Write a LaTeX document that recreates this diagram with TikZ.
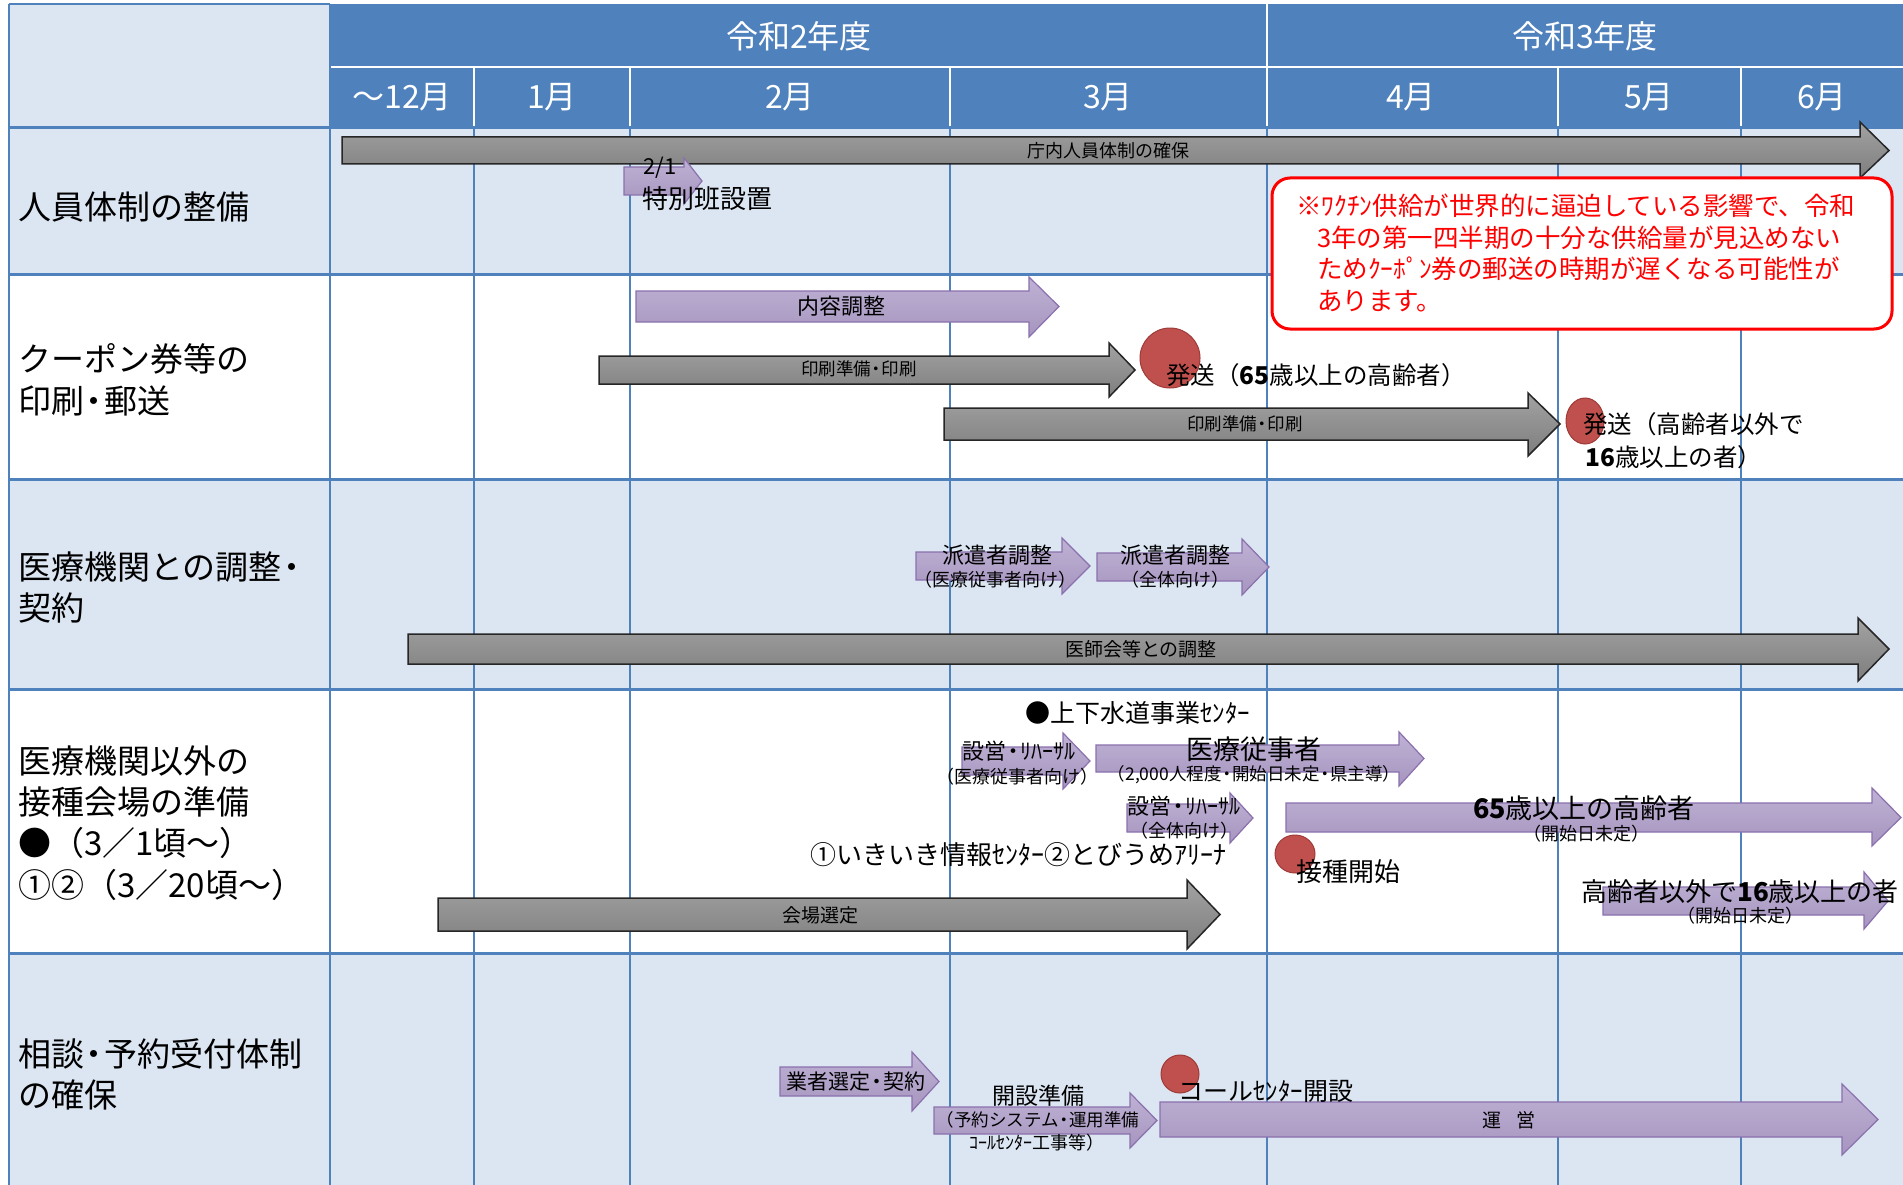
\documentclass[tikz,border=0pt]{standalone}
\usepackage{fontspec}
\setmainfont{Noto Sans CJK JP}
\usetikzlibrary{shapes.geometric}
\definecolor{hdr}{HTML}{4F81BD}
\definecolor{lb}{HTML}{DCE6F2}
\definecolor{gridc}{HTML}{4F81BD}
\definecolor{pfillA}{HTML}{BFB2D5}
\definecolor{pfillB}{HTML}{A695BF}
\definecolor{pline}{HTML}{8A70AC}
\definecolor{gfillA}{HTML}{A2A2A2}
\definecolor{gfillB}{HTML}{7E7E7E}
\definecolor{dotc}{HTML}{C0504D}
\definecolor{dotl}{HTML}{9E3B38}
\definecolor{notered}{HTML}{FF0000}
\newcommand\hArrow[8]{\path[#1] (#2,#5) -- (#3,#5) -- (#3,#7) -- (#4,{(#5+#6)/2}) -- (#3,#8) -- (#3,#6) -- (#2,#6) -- cycle;}
\newcommand\fsz[2]{\fontsize{#1}{#2}\selectfont}
\newcommand\nd{\kern-0.2em・\kern-0.2em}
\tikzset{
  garrow/.style={top color=gfillA,bottom color=gfillB,draw=black!85,line width=1.5pt},
  parrow/.style={top color=pfillA,bottom color=pfillB,draw=pline,line width=1.2pt},
  txt/.style={inner sep=0pt,text=black},
  hdrtxt/.style={inner sep=0pt,text=white,font=\fsz{32}{38}},
  rowlbl/.style={inner sep=0pt,anchor=west,text=black,font=\fsz{33}{40}},
  dot/.style={ellipse,fill=dotc,draw=dotl,line width=1pt,inner sep=0pt},
}
\begin{document}
\begin{tikzpicture}[x=1pt,y=-1pt]
\useasboundingbox (0,0) rectangle (1903,1185);
\fill[white] (0,0) rectangle (1903,1185);
% backgrounds
\fill[lb] (9,4) rectangle (330,128);
\fill[hdr] (330,4) rectangle (1903,128);
\fill[lb] (9,128) rectangle (1903,274);
\fill[lb] (9,479) rectangle (1903,689);
\fill[lb] (9,953) rectangle (1903,1185);
% header separators
\draw[white,line width=2pt] (330,67) -- (1903,67);
\foreach \x in {474,630,950,1558,1741} \draw[white,line width=2pt] (\x,67) -- (\x,128);
\draw[white,line width=2pt] (1267,4) -- (1267,128);
% grid
\foreach \x in {474,630,950,1267,1558,1741} \draw[gridc,line width=2pt] (\x,128) -- (\x,1185);
\draw[gridc,line width=2.5pt] (9,4) -- (9,1185);
\draw[gridc,line width=2.5pt] (330,4) -- (330,1185);
\draw[gridc,line width=2pt] (9,4) -- (330,4);
\foreach \y in {128,274,479,689,953} \draw[gridc,line width=3pt] (9,\y) -- (1903,\y);

% header texts
\node[hdrtxt] (y2) at (799,36) {令和2年度};
\node[hdrtxt] (y3) at (1585,36) {令和3年度};
\node[hdrtxt] (m12) at (402,97) {～12月};
\node[hdrtxt] (m1) at (552,97) {1月};
\node[hdrtxt] (m2) at (790,97) {2月};
\node[hdrtxt] (m3) at (1108,97) {3月};
\node[hdrtxt] (m4) at (1411,97) {4月};
\node[hdrtxt] (m5) at (1649,97) {5月};
\node[hdrtxt] (m6) at (1822,97) {6月};

% row labels
\node[rowlbl] (r1) at (18,207) {人員体制の整備};
\node[rowlbl] (r2a) at (18,359) {クーポン券等の};
\node[rowlbl] (r2b) at (18,401) {印刷\nd 郵送};
\node[rowlbl] (r3a) at (18,567) {医療機関との調整\nd};
\node[rowlbl] (r3b) at (18,608) {契約};
\node[rowlbl] (r4a) at (18,761) {医療機関以外の};
\node[rowlbl] (r4b) at (18,802) {接種会場の準備};
\node[rowlbl] (r4c) at (18,843) {●（3／1頃～）};
\node[rowlbl] (r4d) at (18,885) {①②（3／20頃～）};
\node[rowlbl] (r5a) at (18,1054) {相談\nd 予約受付体制};
\node[rowlbl] (r5b) at (18,1095) {の確保};

% ---- row 1
\hArrow{garrow}{342}{1860}{1889}{137}{164}{122}{178}
\node[txt,font=\fsz{18}{22}] (g1) at (1108,151) {庁内人員体制の確保};
\hArrow{parrow}{624}{684}{702}{167}{195}{158}{204}
\node[txt,font=\fsz{22}{26}] (d21) at (660,168) {2/1};
\node[txt,anchor=west,font=\fsz{26}{30}] (tokubetsu) at (642,199) {特別班設置};
\draw[notered,line width=3pt,fill=white,rounded corners=18pt] (1272,178) rectangle (1892,329);
\node[txt,anchor=west,text=notered,font=\fsz{25.5}{30}] (n1) at (1296,206) {※ﾜｸﾁﾝ供給が世界的に逼迫している影響で、令和};
\node[txt,anchor=west,text=notered,font=\fsz{25.5}{30}] (n2) at (1317,238) {3年の第一四半期の十分な供給量が見込めない};
\node[txt,anchor=west,text=notered,font=\fsz{25.5}{30}] (n3) at (1317,269) {ためｸｰﾎﾟﾝ券の郵送の時期が遅くなる可能性が};
\node[txt,anchor=west,text=notered,font=\fsz{25.5}{30}] (n4) at (1317,301) {あります。};

% ---- row 2
\hArrow{parrow}{636}{1029}{1059}{291}{322}{277}{337}
\node[txt,font=\fsz{22}{26}] (naiyo) at (841,306) {内容調整};
\hArrow{garrow}{599}{1109}{1135}{356}{384}{343}{397}
\node[txt,font=\fsz{17.5}{20}] (ins1) at (859,369) {印刷準備\nd 印刷};
\node[dot,minimum width=60pt,minimum height=60pt] (c1) at (1170,358) {};
\node[txt,anchor=west,font=\fsz{24.5}{29}] (hasso1) at (1166,375) {発送（\textbf{65}歳以上の高齢者）};
\hArrow{garrow}{944}{1528}{1560}{408}{440}{393}{456}
\node[txt,font=\fsz{17.5}{20}] (ins2) at (1245,424) {印刷準備\nd 印刷};
\node[dot,minimum width=38pt,minimum height=46pt] (c2) at (1585,421) {};
\node[txt,anchor=west,font=\fsz{24.5}{29}] (hasso2a) at (1583,424) {発送（高齢者以外で};
\node[txt,anchor=west,font=\fsz{24.5}{29}] (hasso2b) at (1585,457) {\textbf{16}歳以上の者）};

% ---- row 3
\hArrow{parrow}{916}{1062}{1090}{552}{580}{538}{594}
\node[txt,font=\fsz{22}{26}] (haken1) at (997,555) {派遣者調整};
\node[txt,font=\fsz{18}{21}] (haken1s) at (995,580) {（医療従事者向け）};
\hArrow{parrow}{1097}{1242}{1269}{553}{581}{539}{595}
\node[txt,font=\fsz{22}{26}] (haken2) at (1175,555) {派遣者調整};
\node[txt,font=\fsz{18}{21}] (haken2s) at (1175,580) {（全体向け）};
\hArrow{garrow}{408}{1858}{1889}{634}{664}{618}{681}
\node[txt,font=\fsz{19}{22}] (ishikai) at (1141,649) {医師会等との調整};

% ---- row 4
\node[txt,anchor=west,font=\fsz{25}{30}] (josui) at (1025,713) {●上下水道事業ｾﾝﾀｰ};
\hArrow{parrow}{962}{1063}{1090}{747}{775}{733}{789}
\node[txt,font=\fsz{22}{26}] (setsu1) at (1019,751) {設営\nd ﾘﾊｰｻﾙ};
\node[txt,font=\fsz{18}{21}] (setsu1s) at (1017,777) {（医療従事者向け）};
\hArrow{parrow}{1096}{1399}{1424}{745}{772}{732}{786}
\node[txt,font=\fsz{27}{32}] (iryo) at (1254,749) {医療従事者};
\node[txt,font=\fsz{17.5}{20}] (iryos) at (1254,775) {（2,000人程度\nd 開始日未定\nd 県主導）};
\hArrow{parrow}{1127}{1230}{1253}{804}{832}{793}{843}
\node[txt,font=\fsz{22}{26}] (setsu2) at (1184,806) {設営\nd ﾘﾊｰｻﾙ};
\node[txt,font=\fsz{18}{21}] (setsu2s) at (1184,831) {（全体向け）};
\node[txt,anchor=west,font=\fsz{26}{30}] (venues) at (810,855) {①いきいき情報ｾﾝﾀｰ②とびうめｱﾘｰﾅ};
\hArrow{garrow}{438}{1187}{1220}{898}{931}{880}{949}
\node[txt,font=\fsz{19}{22}] (kaijo) at (820,915) {会場選定};
\hArrow{parrow}{1286}{1872}{1901}{803}{832}{788}{846}
\node[txt,font=\fsz{27}{32}] (old65) at (1584,808) {\textbf{65}歳以上の高齢者};
\node[txt,font=\fsz{18}{21}] (old65s) at (1586,834) {（開始日未定）};
\node[dot,minimum width=40pt,minimum height=38pt] (c3) at (1295,854) {};
\node[txt,anchor=west,font=\fsz{26}{30}] (sesshu) at (1296,872) {接種開始};
\hArrow{parrow}{1603}{1864}{1888}{887}{915}{872}{929}
\node[txt,font=\fsz{26}{30}] (other16) at (1740,892) {高齢者以外で\textbf{16}歳以上の者};
\node[txt,font=\fsz{18}{21}] (other16s) at (1740,916) {（開始日未定）};

% ---- row 5
\hArrow{parrow}{780}{912}{939}{1067}{1096}{1052}{1111}
\node[txt,font=\fsz{21}{25}] (gyosha) at (856,1082) {業者選定\nd 契約};
\hArrow{parrow}{934}{1130}{1157}{1107}{1134}{1093}{1148}
\node[txt,font=\fsz{23}{27}] (kaisetsu) at (1038,1096) {開設準備};
\node[txt,font=\fsz{17.5}{20}] (kaisetsub) at (1038,1120) {（予約システム\nd 運用準備};
\node[txt,font=\fsz{18}{21}] (kaisetsuc) at (1037,1143) {ｺｰﾙｾﾝﾀｰ工事等）};
\hArrow{parrow}{1160}{1842}{1878}{1102}{1137}{1084}{1155}
\node[txt,font=\fsz{19}{22}] (unei) at (1509,1120) {運\hspace{0.8em}営};
\node[dot,minimum width=38pt,minimum height=38pt] (c4) at (1180,1074) {};
\node[txt,anchor=west,font=\fsz{25}{30}] (callc) at (1178,1091) {コールｾﾝﾀｰ開設};
\end{tikzpicture}
\end{document}
